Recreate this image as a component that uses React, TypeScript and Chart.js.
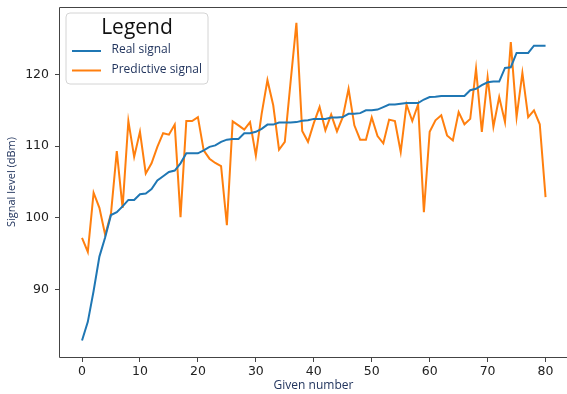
import React, { useEffect, useRef } from "react";
import { Chart, registerables } from "chart.js";

Chart.register(...registerables);

const xTicks = [0, 10, 20, 30, 40, 50, 60, 70, 80];
const yTicks = [90, 100, 110, 120];

const realSignal = [
  82.9, 85.5, 89.8, 94.6, 97.3, 100.4, 100.8, 101.6, 102.5, 102.5,
  103.3, 103.4, 104.0, 105.2, 105.8, 106.4, 106.6, 107.6, 109.0, 109.0,
  109.0, 109.4, 109.9, 110.1, 110.6, 110.9, 111.0, 111.0, 111.8, 111.8,
  112.0, 112.4, 113.0, 113.0, 113.3, 113.3, 113.3, 113.35, 113.55, 113.6,
  113.8, 113.8, 113.8, 114.0, 114.0, 114.05, 114.5, 114.5, 114.6, 115.0,
  115.0, 115.1, 115.45, 115.8, 115.8, 115.9, 116.0, 116.0, 116.0, 116.5,
  116.85, 116.9, 117.0, 117.0, 117.0, 117.0, 117.0, 117.8, 118.0, 118.5,
  118.9, 119.0, 119.0, 120.9, 121.0, 123.0, 123.0, 123.0, 124.0, 124.0, 124.0,
];

const predictiveSignal = [
  97.2, 95.25, 103.5, 101.4, 97.6, 100.6, 109.3, 101.4, 113.5, 108.5,
  112.0, 106.2, 107.6, 109.9, 111.8, 111.6, 113.0, 100.1, 113.5, 113.5,
  114.05, 109.4, 108.25, 107.65, 107.2, 98.97, 113.45, 112.9, 112.3, 113.35,
  108.7, 114.5, 119.2, 115.7, 109.5, 110.6, 119.0, 127.2, 112.1, 110.6,
  113.2, 115.45, 112.2, 114.4, 112.05, 114.05, 118.0, 112.9, 110.9, 110.9,
  114.0, 111.4, 110.4, 113.7, 113.5, 109.2, 115.8, 113.5, 115.8, 100.8,
  112.0, 113.6, 114.3, 111.5, 110.8, 114.75, 113.05, 113.8, 120.8, 112.0,
  119.6, 112.7, 116.85, 113.35, 124.5, 114.05, 120.2, 114.05, 115.0, 113.05, 102.9,
];

const seriesLabels = ["Real signal", "Predictive signal"];
const legendTitle = "Legend";
const xTitle = "Given number";
const yTitle = "Signal level (dBm)";

const BLUE = "#1f77b4";
const ORANGE = "#ff7f0e";
const NAVY = "#22355e";
const SPINE = "#444444";

const framePlugin = {
  id: "frame",
  afterDraw(chart: any) {
    const { ctx, chartArea } = chart;
    const l = Math.round(chartArea.left) - 0.5;
    const t = Math.round(chartArea.top) + 0.5;
    const b = Math.round(chartArea.bottom) + 0.5;
    const r = chart.width + 2;
    ctx.save();
    // clear the right edge strip (reference is cropped before the right spine)
    ctx.fillStyle = "#ffffff";
    ctx.fillRect(chart.width - 5, 0, 10, chart.height);
    ctx.strokeStyle = SPINE;
    ctx.lineWidth = 1;
    ctx.beginPath();
    ctx.moveTo(r, t);
    ctx.lineTo(l, t);
    ctx.lineTo(l, b);
    ctx.lineTo(r, b);
    ctx.stroke();
    ctx.restore();
  },
};

const legendPlugin = {
  id: "boxLegend",
  afterDraw(chart: any) {
    const { ctx } = chart;
    const bx = 66, by = 13, bw = 142, bh = 71, r = 4;
    ctx.save();
    ctx.beginPath();
    ctx.moveTo(bx + r, by);
    ctx.lineTo(bx + bw - r, by);
    ctx.quadraticCurveTo(bx + bw, by, bx + bw, by + r);
    ctx.lineTo(bx + bw, by + bh - r);
    ctx.quadraticCurveTo(bx + bw, by + bh, bx + bw - r, by + bh);
    ctx.lineTo(bx + r, by + bh);
    ctx.quadraticCurveTo(bx, by + bh, bx, by + bh - r);
    ctx.lineTo(bx, by + r);
    ctx.quadraticCurveTo(bx, by, bx + r, by);
    ctx.closePath();
    ctx.fillStyle = "rgba(255,255,255,0.85)";
    ctx.fill();
    ctx.strokeStyle = "#d4d4d4";
    ctx.lineWidth = 1;
    ctx.stroke();

    ctx.fillStyle = "#111111";
    ctx.font = "21px 'Open Sans'";
    ctx.textAlign = "center";
    ctx.textBaseline = "alphabetic";
    ctx.fillText(legendTitle, bx + bw / 2, 34);

    const rows = [51, 70.5];
    chart.data.datasets.forEach((ds: any, i: number) => {
      const y = rows[i];
      ctx.strokeStyle = ds.borderColor;
      ctx.lineWidth = 2;
      ctx.beginPath();
      ctx.moveTo(72, y);
      ctx.lineTo(101, y);
      ctx.stroke();
      ctx.fillStyle = NAVY;
      ctx.font = "12px 'Open Sans'";
      ctx.textAlign = "left";
      ctx.textBaseline = "middle";
      ctx.fillText(ds.label, 111.5, y - 1);
    });
    ctx.restore();
  },
};

export default function App() {
  const ref = useRef<HTMLCanvasElement | null>(null);

  useEffect(() => {
    if (!ref.current) return;
    const chart = new Chart(ref.current, {
      type: "line",
      data: {
        datasets: [
          {
            label: seriesLabels[0],
            data: realSignal.map((v, i) => ({ x: i, y: v })),
            borderColor: BLUE,
            backgroundColor: BLUE,
            borderWidth: 2,
            pointRadius: 0,
            tension: 0,
          },
          {
            label: seriesLabels[1],
            data: predictiveSignal.map((v, i) => ({ x: i, y: v })),
            borderColor: ORANGE,
            backgroundColor: ORANGE,
            borderWidth: 2,
            pointRadius: 0,
            tension: 0,
          },
        ],
      },
      options: {
        animation: false,
        responsive: false,
        devicePixelRatio: 1,
        layout: { padding: { top: 7, right: 0, left: 0, bottom: 0 } },
        plugins: {
          legend: { display: false },
          tooltip: { enabled: false },
        },
        scales: {
          x: {
            type: "linear",
            min: -3.8,
            max: 83.7,
            afterBuildTicks: (scale: any) => {
              scale.ticks = xTicks.map((v) => ({ value: v }));
            },
            afterFit: (scale: any) => {
              scale.height = 37;
              scale.paddingLeft = 0;
              scale.paddingRight = 0;
            },
            grid: {
              drawOnChartArea: false,
              drawTicks: true,
              tickLength: 5,
              color: SPINE,
            },
            border: { display: false },
            ticks: {
              padding: 2,
              color: "#222222",
              font: { family: "DejaVu Sans", size: 12.5 },
              maxRotation: 0,
            },
            title: {
              display: true,
              text: xTitle,
              color: NAVY,
              font: { family: "Open Sans", size: 12 },
              padding: { top: 0, bottom: 1 },
            },
          },
          y: {
            type: "linear",
            min: 80.6,
            max: 129.4,
            afterBuildTicks: (scale: any) => {
              scale.ticks = yTicks.map((v) => ({ value: v }));
            },
            afterFit: (scale: any) => {
              scale.width = 60;
              scale.paddingTop = 0;
              scale.paddingBottom = 0;
            },
            grid: {
              drawOnChartArea: false,
              drawTicks: true,
              tickLength: 5,
              color: SPINE,
            },
            border: { display: false },
            ticks: {
              padding: 6,
              color: "#222222",
              font: { family: "DejaVu Sans", size: 12.5 },
            },
            title: {
              display: true,
              text: yTitle,
              color: NAVY,
              font: { family: "Open Sans", size: 11 },
              padding: { top: 5.5, bottom: 0 },
            },
          },
        },
      },
      plugins: [framePlugin, legendPlugin],
    });
    return () => chart.destroy();
  }, []);

  return (
    <div
      style={{
        position: "fixed",
        left: 0,
        top: 0,
        width: 567,
        height: 394,
        background: "#ffffff",
        overflow: "hidden",
      }}
    >
      <canvas ref={ref} width={567} height={394} style={{ display: "block" }} />
    </div>
  );
}
